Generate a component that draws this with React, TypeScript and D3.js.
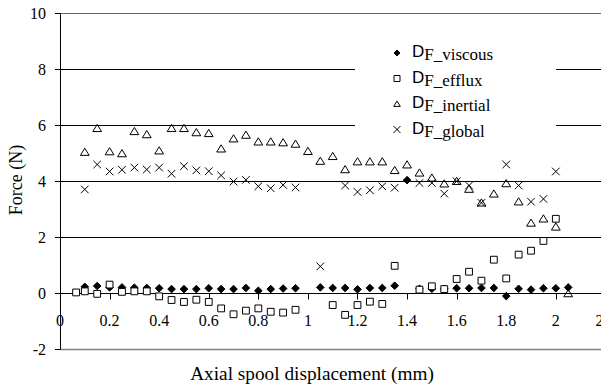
import React from "react";
import * as d3 from "d3";

const viscousX = [0.1, 0.15, 0.2, 0.25, 0.3, 0.35, 0.4, 0.45, 0.5, 0.55, 0.6, 0.65, 0.7, 0.75, 0.8, 0.85, 0.9, 0.95, 1.05, 1.1, 1.15, 1.2, 1.25, 1.3, 1.35, 1.4, 1.45, 1.5, 1.55, 1.6, 1.65, 1.7, 1.75, 1.8, 1.85, 1.9, 1.95, 2.0, 2.05];
const viscousY = [0.22, 0.25, 0.2, 0.2, 0.19, 0.18, 0.17, 0.14, 0.14, 0.14, 0.17, 0.14, 0.14, 0.18, 0.08, 0.14, 0.16, 0.17, 0.2, 0.18, 0.18, 0.13, 0.18, 0.18, 0.26, 4.03, 0.15, 0.15, 0.15, 0.17, 0.17, 0.18, 0.18, -0.11, 0.15, 0.12, 0.17, 0.17, 0.2];

const effluxX = [0.065, 0.1, 0.15, 0.2, 0.25, 0.3, 0.35, 0.4, 0.45, 0.5, 0.55, 0.6, 0.65, 0.7, 0.75, 0.8, 0.85, 0.9, 0.95, 1.1, 1.15, 1.2, 1.25, 1.3, 1.35, 1.45, 1.5, 1.55, 1.6, 1.65, 1.7, 1.75, 1.8, 1.85, 1.9, 1.95, 2.0];
const effluxY = [0.02, 0.06, -0.03, 0.3, 0.04, 0.06, 0.06, -0.12, -0.25, -0.32, -0.24, -0.32, -0.55, -0.76, -0.63, -0.55, -0.67, -0.7, -0.6, -0.43, -0.78, -0.43, -0.31, -0.39, 0.97, 0.12, 0.24, 0.14, 0.5, 0.76, 0.44, 1.19, 0.52, 1.37, 1.51, 1.86, 2.65];

const inertialX = [0.1, 0.15, 0.2, 0.25, 0.3, 0.35, 0.4, 0.45, 0.5, 0.55, 0.6, 0.65, 0.7, 0.75, 0.8, 0.85, 0.9, 0.95, 1.0, 1.05, 1.1, 1.15, 1.2, 1.25, 1.3, 1.35, 1.4, 1.45, 1.5, 1.55, 1.6, 1.65, 1.7, 1.75, 1.8, 1.85, 1.9, 1.95, 2.0, 2.05];
const inertialY = [5.03, 5.88, 5.05, 4.98, 5.77, 5.66, 5.08, 5.88, 5.88, 5.73, 5.7, 5.15, 5.51, 5.64, 5.4, 5.4, 5.37, 5.32, 5.06, 4.71, 4.88, 4.41, 4.69, 4.69, 4.69, 4.38, 4.58, 4.29, 4.11, 3.9, 3.99, 3.71, 3.22, 3.54, 3.91, 3.26, 2.5, 2.65, 2.36, -0.02];

const globalX = [0.1, 0.15, 0.2, 0.25, 0.3, 0.35, 0.4, 0.45, 0.5, 0.55, 0.6, 0.65, 0.7, 0.75, 0.8, 0.85, 0.9, 0.95, 1.05, 1.15, 1.2, 1.25, 1.3, 1.35, 1.45, 1.5, 1.55, 1.6, 1.65, 1.7, 1.8, 1.85, 1.9, 1.95, 2.0];
const globalY = [3.7, 4.59, 4.34, 4.4, 4.48, 4.41, 4.48, 4.26, 4.53, 4.38, 4.35, 4.2, 3.98, 4.04, 3.81, 3.74, 3.86, 3.77, 0.95, 3.84, 3.61, 3.67, 3.81, 3.76, 3.93, 3.93, 3.55, 3.99, 3.84, 3.22, 4.59, 3.84, 3.26, 3.36, 4.34];

const xTicks = [0, 0.2, 0.4, 0.6, 0.8, 1, 1.2, 1.4, 1.6, 1.8, 2, 2.2];
const yTicks = [-2, 0, 2, 4, 6, 8, 10];
const legendLabels = ["F_viscous", "F_efflux", "F_inertial", "F_global"];

const W = 601;
const H = 387;

type Shape = "diamond" | "square" | "triangle" | "cross";

function markerPath(shape: Shape, cx: number, cy: number, r: number): string {
  const p = d3.path();
  if (shape === "diamond") {
    p.moveTo(cx, cy - r);
    p.lineTo(cx + r, cy);
    p.lineTo(cx, cy + r);
    p.lineTo(cx - r, cy);
    p.closePath();
  } else if (shape === "square") {
    p.rect(cx - r, cy - r, 2 * r, 2 * r);
  } else if (shape === "triangle") {
    p.moveTo(cx, cy - r);
    p.lineTo(cx + r * 1.1, cy + r * 0.8);
    p.lineTo(cx - r * 1.1, cy + r * 0.8);
    p.closePath();
  } else {
    p.moveTo(cx - r, cy - r);
    p.lineTo(cx + r, cy + r);
    p.moveTo(cx + r, cy - r);
    p.lineTo(cx - r, cy + r);
  }
  return p.toString();
}

export default function App() {
  const x = d3.scaleLinear().domain([0, 2.2]).range([60, 605.4]);
  const y = d3.scaleLinear().domain([-2, 10]).range([349, 13]);
  const py = (v: number) => Math.round(y(v)) + 0.5;
  const px = (v: number) => Math.round(x(v)) + 0.5;

  const series: { xs: number[]; ys: number[]; shape: Shape; r: number; fill: string }[] = [
    { xs: viscousX, ys: viscousY, shape: "diamond", r: 3.8, fill: "#000" },
    { xs: effluxX, ys: effluxY, shape: "square", r: 3.4, fill: "#fff" },
    { xs: inertialX, ys: inertialY, shape: "triangle", r: 4, fill: "none" },
    { xs: globalX, ys: globalY, shape: "cross", r: 3.8, fill: "none" },
  ];

  const legendTop = 57;
  const legendStep = 25.5;

  return (
    <svg
      width={W}
      height={H}
      style={{ position: "absolute", left: 0, top: 0, background: "#fff" }}
      fontFamily="'Liberation Serif', 'Times New Roman', serif"
    >
      <rect x={0} y={0} width={W} height={H} fill="#fff" />
      {yTicks
        .filter((t) => t !== 0 && t !== -2)
        .map((t) => (
          <line key={"g" + t} x1={60} x2={W} y1={py(t)} y2={py(t)} stroke={t === 10 ? "#666" : "#000"} strokeWidth={1} />
        ))}
      <line x1={60} x2={W} y1={py(-2)} y2={py(-2)} stroke="#808080" strokeWidth={1.5} />
      <line x1={60.5} x2={60.5} y1={py(10)} y2={py(-2)} stroke="#000" />
      {yTicks.map((t) => (
        <g key={"yt" + t}>
          <line x1={55} x2={60} y1={py(t)} y2={py(t)} stroke="#000" />
          <text x={46} y={y(t) + 5.5} textAnchor="end" fontSize={16} fill="#000">
            {t}
          </text>
        </g>
      ))}
      <line x1={60} x2={W} y1={py(0)} y2={py(0)} stroke="#000" />
      {xTicks.map((t) => (
        <g key={"xt" + t}>
          <line x1={px(t)} x2={px(t)} y1={py(0)} y2={py(0) + 6} stroke="#000" />
          <text x={x(t)} y={326} textAnchor="middle" fontSize={16} fill="#000">
            {t}
          </text>
        </g>
      ))}
      <rect x={355} y={38} width={201} height={104} fill="#fff" />
      {series.map((s, si) => (
        <g key={"s" + si}>
          {s.xs.map((xv, i) => (
            <path
              key={i}
              d={markerPath(s.shape, x(xv), y(s.ys[i]), s.r)}
              fill={s.fill}
              stroke="#000"
              strokeWidth={1}
            />
          ))}
        </g>
      ))}
      {series.map((s, i) => {
        const by = legendTop + i * legendStep;
        const cy = by - 4;
        return (
          <g key={"l" + i}>
            <path
              d={markerPath(s.shape, 397, cy, s.shape === "cross" ? 3.5 : 3)}
              fill={s.fill}
              stroke="#000"
              strokeWidth={1}
            />
            <text x={412} y={by} fontSize={17} fill="#000">
              <tspan fontFamily="'Liberation Sans', Arial, sans-serif">D</tspan>
              <tspan dy={3} fontSize={17}>{legendLabels[i]}</tspan>
            </text>
          </g>
        );
      })}
      <text x={312} y={380} textAnchor="middle" fontSize={19.3} fill="#000">
        Axial spool displacement (mm)
      </text>
      <text transform="translate(21.5,180) rotate(-90)" textAnchor="middle" fontSize={18} fill="#000">
        Force (N)
      </text>
    </svg>
  );
}
